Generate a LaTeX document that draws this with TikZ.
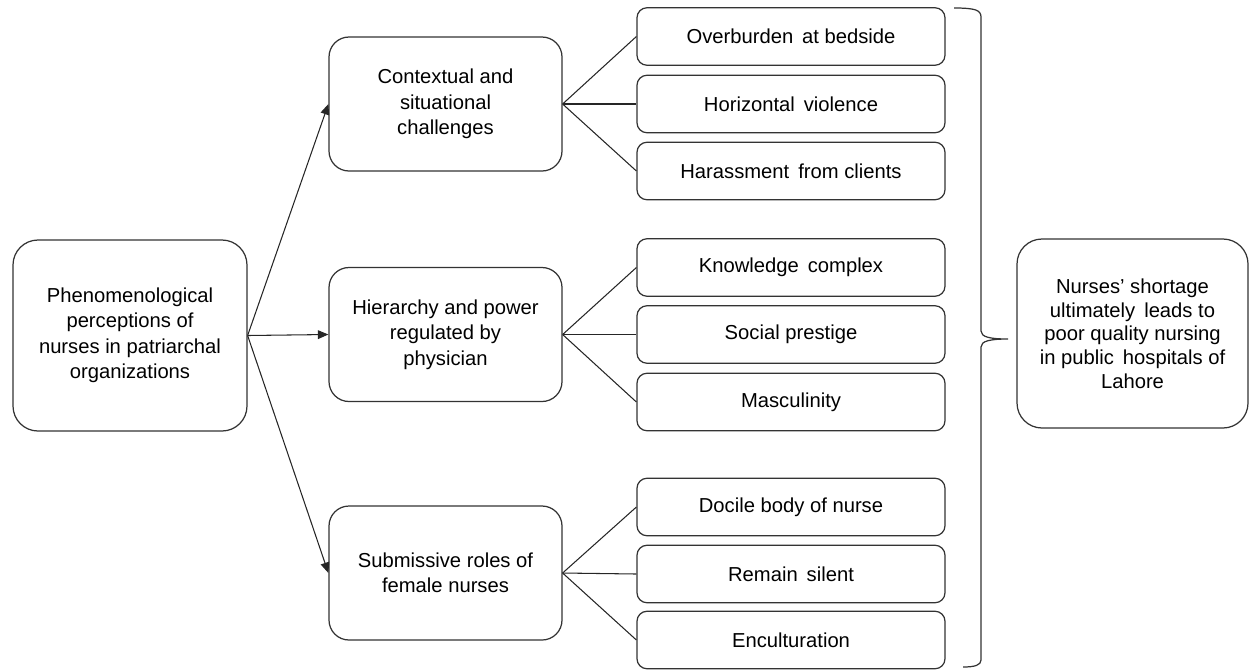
\documentclass[tikz,border=0pt]{standalone}
\usepackage{fontspec}
\setmainfont{Liberation Sans}
\usepackage{tikz}
\usetikzlibrary{arrows.meta, positioning}

\begin{document}
\begin{tikzpicture}[
    box/.style={draw=black!80, line width=0.7pt, align=center, inner sep=2pt,
        font=\fontsize{11.5}{14.5}\selectfont},
    mainbox/.style={box, rounded corners=0.5cm, minimum width=4.68cm, minimum height=3.82cm},
    themebox/.style={box, rounded corners=0.4cm, minimum width=4.66cm, minimum height=2.68cm},
    subbox/.style={box, rounded corners=0.2cm, minimum width=6.16cm, minimum height=1.15cm},
    link/.style={draw=black!85, line width=0.6pt},
    arrow/.style={link, -{Triangle[length=6pt, width=5pt]}}
]
    \useasboundingbox (0,0) rectangle (24.98,-13.38);

    % 左
    \node[mainbox] (percept) at (2.6,-6.71) {Phenomenological\\perceptions of\\nurses in patriarchal\\organizations};

    % 中
    \node[themebox] (context) at (8.91,-2.08) {Contextual and\\situational\\challenges};
    \node[themebox] (hierarchy) at (8.91,-6.69) {Hierarchy and power\\regulated by\\physician};
    \node[themebox] (submissive) at (8.91,-11.46) {Submissive roles of\\female nurses};

    % 右侧小框
    \node[subbox] (overburden) at (15.82,-0.73) {Overburden\, at bedside};
    \node[subbox] (violence) at (15.82,-2.08) {Horizontal\, violence};
    \node[subbox] (harass) at (15.82,-3.42) {Harassment\, from clients};

    \node[subbox] (knowledge) at (15.82,-5.35) {Knowledge\, complex};
    \node[subbox] (prestige) at (15.82,-6.69) {Social prestige};
    \node[subbox] (masculin) at (15.82,-8.04) {Masculinity};

    \node[subbox] (docile) at (15.82,-10.14) {Docile body of nurse};
    \node[subbox] (silent) at (15.82,-11.48) {Remain\, silent};
    \node[subbox] (encult) at (15.82,-12.8) {Enculturation};

    % 结果
    \node[mainbox, minimum width=4.62cm, minimum height=3.78cm,
          font=\fontsize{11.5}{13.5}\selectfont] (shortage) at (22.65,-6.67)
        {Nurses’ shortage\\ultimately\, leads to\\poor quality nursing\\in public\, hospitals of\\Lahore};

    % 箭头
    \draw[arrow] (percept.east) -- (context.west);
    \draw[arrow] (percept.east) -- (hierarchy.west);
    \draw[arrow] (percept.east) -- (submissive.west);

    % 连线
    \foreach \t/\a/\b/\c in {context/overburden/violence/harass,
                             hierarchy/knowledge/prestige/masculin,
                             submissive/docile/silent/encult}{
        \draw[link] (\t.east) -- (\a.west);
        \draw[link] (\t.east) -- (\b.west);
        \draw[link] (\t.east) -- (\c.west);
    }

    % 大括号
    \draw[draw=black!80, line width=0.7pt]
        (19.08,-0.16) .. controls (19.5,-0.16) and (19.62,-0.2) .. (19.62,-0.34)
        -- (19.62,-6.62) .. controls (19.62,-6.74) and (19.8,-6.78) .. (20.16,-6.78)
        .. controls (19.8,-6.78) and (19.62,-6.82) .. (19.62,-6.94)
        -- (19.62,-13.2) .. controls (19.62,-13.3) and (19.5,-13.34) .. (19.26,-13.34);
\end{tikzpicture}
\end{document}
